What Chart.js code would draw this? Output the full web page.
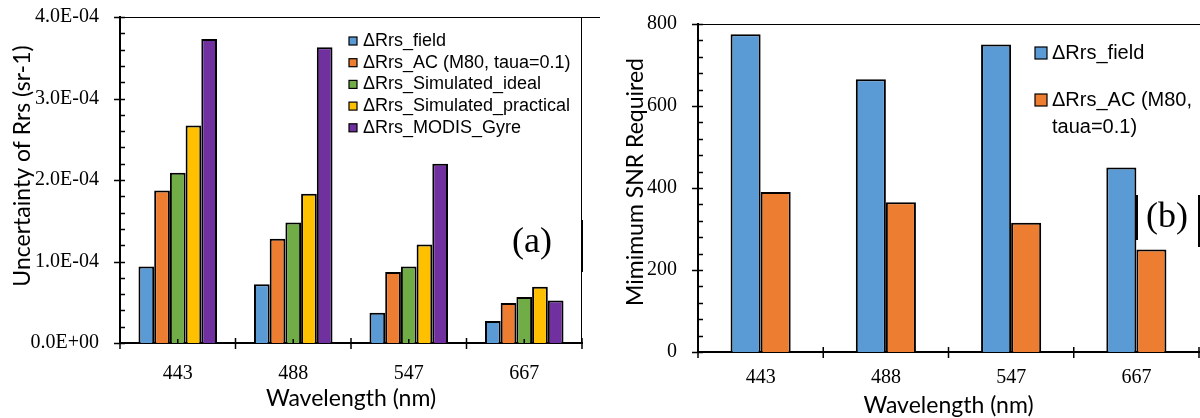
<!DOCTYPE html>
<html>
<head>
<meta charset="utf-8">
<script src="https://cdn.jsdelivr.net/npm/chart.js@4.4.1/dist/chart.umd.min.js"></script>
<style>
body { margin: 0; background: #fff; }
#wrap { position: relative; width: 1200px; height: 418px; }
canvas { position: absolute; top: 0; }
</style>
</head>
<body>
<div id="wrap">
  <canvas id="uncChart" width="600" height="418" style="left:0"></canvas>
  <canvas id="snrChart" width="600" height="418" style="left:600px"></canvas>
</div>
<script>
// data
const wavelengths = ['443', '488', '547', '667'];
const uncNames = ['ΔRrs_field', 'ΔRrs_AC (M80, taua=0.1)', 'ΔRrs_Simulated_ideal', 'ΔRrs_Simulated_practical', 'ΔRrs_MODIS_Gyre'];
const uncField = [9.4e-5, 7.2e-5, 3.7e-5, 2.7e-5];
const uncAC = [1.87e-4, 1.28e-4, 8.7e-5, 4.9e-5];
const uncIdeal = [2.09e-4, 1.48e-4, 9.4e-5, 5.65e-5];
const uncPractical = [2.67e-4, 1.83e-4, 1.21e-4, 6.9e-5];
const uncModis = [3.73e-4, 3.63e-4, 2.2e-4, 5.2e-5];
const snrNames = ['ΔRrs_field', 'ΔRrs_AC (M80,|taua=0.1)'];
const snrField = [775, 665, 750, 450];
const snrAC = [390, 365, 315, 250];
const colors = ['#5B9BD5', '#ED7D31', '#70AD47', '#FFC000', '#7030A0'];

Chart.defaults.font.family = 'Liberation Serif';
Chart.defaults.color = '#000';

function sciLabel(v) {
    // 4.0E-04 style
    let s = Number(v).toExponential(1).toUpperCase();
    return s.replace(/E([+-])(\d)$/, 'E$10$2');
}

// keep tick labels from pushing the plot area around
function noPad(s) {
    s.paddingTop = 0; s.paddingBottom = 0;
    s.paddingLeft = 0; s.paddingRight = 0;
}

// axis ticks, frame, legend, axis titles and panel label
const framePlugin = {
    id: 'frame',
    afterDraw(chart, args, o) {
        const ctx = chart.ctx, a = chart.chartArea;
        const xs = chart.scales.x, ys = chart.scales.y;
        ctx.save();
        ctx.strokeStyle = '#000';

        // frame top / right
        ctx.lineWidth = 1;
        ctx.beginPath();
        ctx.moveTo(a.left, a.top + 0.5);
        ctx.lineTo(chart.width, a.top + 0.5);
        o.edges.forEach(e => { ctx.moveTo(e[0], e[1]); ctx.lineTo(e[0], e[2]); });
        ctx.stroke();
        ctx.lineWidth = 2;
        ctx.beginPath();
        o.segs.forEach(e => { ctx.moveTo(e[0], e[1]); ctx.lineTo(e[0], e[2]); });
        ctx.stroke();

        // y ticks: major cross the axis, minor inside
        ctx.lineWidth = 1.5;
        ctx.beginPath();
        const n = Math.round((ys.max - ys.min) / o.minor);
        const every = Math.round(o.major / o.minor);
        for (let i = 0; i <= n; i++) {
            const py = Math.round(ys.getPixelForValue(ys.min + i * o.minor)) + 0.5;
            ctx.moveTo(a.left - (i % every === 0 ? 6 : 0), py);
            ctx.lineTo(a.left + 5, py);
        }
        // x ticks at category edges
        const cnt = wavelengths.length;
        for (let i = 0; i <= cnt; i++) {
            let px;
            if (i === 0) px = a.left;
            else if (i === cnt) px = a.right;
            else px = (xs.getPixelForValue(i - 1) + xs.getPixelForValue(i)) / 2;
            ctx.moveTo(px, a.bottom - 5);
            ctx.lineTo(px, a.bottom + 6);
        }
        if (o.centerTicks) {
            for (let i = 0; i < cnt; i++) {
                const px = xs.getPixelForValue(i);
                ctx.moveTo(px, a.bottom);
                ctx.lineTo(px, a.bottom - 4);
            }
        }
        ctx.stroke();

        // legend
        const L = o.legend;
        ctx.font = L.size + 'px "Liberation Sans"';
        ctx.textBaseline = 'middle';
        ctx.textAlign = 'left';
        L.names.forEach((name, i) => {
            const y = L.y + i * L.step;
            ctx.fillStyle = colors[i];
            ctx.fillRect(L.x, y - L.box / 2, L.box, L.box);
            ctx.lineWidth = 1.2;
            ctx.strokeRect(L.x, y - L.box / 2, L.box, L.box);
            ctx.fillStyle = '#000';
            name.split('|').forEach((part, k) => {
                ctx.fillText(part, L.x + L.box + L.gap, y + k * L.lineH);
            });
        });

        // axis titles
        ctx.font = o.titleSize + 'px Lato';
        ctx.textAlign = 'center';
        ctx.fillText(o.xTitle, (a.left + a.right) / 2, o.xTitleY);
        ctx.save();
        ctx.translate(o.yTitleX, o.yTitleY);
        ctx.rotate(-Math.PI / 2);
        ctx.fillText(o.yTitle, 0, 0);
        ctx.restore();

        // panel label
        ctx.font = '36px "Liberation Serif"';
        ctx.fillText(o.label[0], o.label[1], o.label[2]);
        ctx.restore();
    }
};

const uncSets = [uncField, uncAC, uncIdeal, uncPractical, uncModis];
new Chart(document.getElementById('uncChart'), {
    type: 'bar',
    data: {
        labels: wavelengths,
        datasets: uncSets.map((d, i) => ({
            label: uncNames[i],
            data: d,
            backgroundColor: colors[i],
            borderColor: '#000',
            borderWidth: 2,
            categoryPercentage: 0.68,
            barPercentage: 1.0
        }))
    },
    options: {
        responsive: false,
        animation: false,
        layout: { padding: { top: 17, right: 18, left: 0, bottom: 0 } },
        plugins: {
            legend: { display: false },
            tooltip: { enabled: false },
            frame: {
                minor: 2e-5, major: 1e-4, centerTicks: true,
                edges: [[581.5, 17, 343]],
                segs: [[582, 220, 272]],
                legend: { names: uncNames, x: 349, y: 41, step: 21.7, box: 8, gap: 6, size: 18, lineH: 0 },
                titleSize: 23,
                xTitle: 'Wavelength (nm)', xTitleY: 399,
                yTitle: 'Uncertainty of Rrs (sr-1)', yTitleX: 23, yTitleY: 166,
                label: ['(a)', 532, 243]
            }
        },
        scales: {
            x: {
                grid: { display: false },
                border: { display: true, color: '#000', width: 2 },
                ticks: { font: { size: 20 }, padding: 11 },
                afterFit: s => { s.height = 75; noPad(s); }
            },
            y: {
                min: 0, max: 4e-4,
                grid: { display: false },
                border: { display: true, color: '#000', width: 2 },
                ticks: { stepSize: 1e-4, font: { size: 20 }, padding: 13, callback: v => sciLabel(v) },
                afterFit: s => { s.width = 120; noPad(s); }
            }
        }
    },
    plugins: [framePlugin]
});

new Chart(document.getElementById('snrChart'), {
    type: 'bar',
    data: {
        labels: wavelengths,
        datasets: [snrField, snrAC].map((d, i) => ({
            label: snrNames[i].replace('|', ' '),
            data: d,
            backgroundColor: colors[i],
            borderColor: '#000',
            borderWidth: 2,
            categoryPercentage: 0.48,
            barPercentage: 1.0
        }))
    },
    options: {
        responsive: false,
        animation: false,
        layout: { padding: { top: 24, right: 1, left: 0, bottom: 0 } },
        plugins: {
            legend: { display: false },
            tooltip: { enabled: false },
            frame: {
                minor: 40, major: 200, centerTicks: false,
                edges: [],
                segs: [[537, 195, 240], [599, 195, 247]],
                legend: { names: snrNames, x: 435, y: 53, step: 47, box: 12, gap: 5, size: 20, lineH: 27 },
                titleSize: 23,
                xTitle: 'Wavelength (nm)', xTitleY: 406,
                yTitle: 'Mimimum SNR Required', yTitleX: 36, yTitleY: 182,
                label: ['(b)', 567, 218]
            }
        },
        scales: {
            x: {
                grid: { display: false },
                border: { display: true, color: '#000', width: 2 },
                ticks: { font: { size: 20 }, padding: 6 },
                afterFit: s => { s.height = 66; noPad(s); }
            },
            y: {
                min: 0, max: 800,
                grid: { display: false },
                border: { display: true, color: '#000', width: 2 },
                ticks: { stepSize: 200, font: { size: 20 }, padding: 13 },
                afterFit: s => { s.width = 98; noPad(s); }
            }
        }
    },
    plugins: [framePlugin]
});
</script>
</body>
</html>
